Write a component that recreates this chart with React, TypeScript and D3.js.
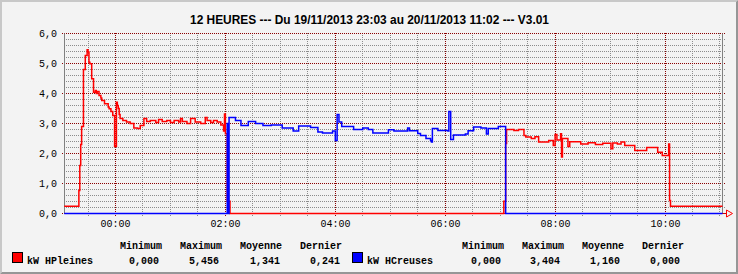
import React from 'react';
import * as d3 from 'd3';

const TITLE = '12 HEURES --- Du 19/11/2013 23:03 au 20/11/2013 11:02 --- V3.01';
const START = new Date(2013, 10, 19, 23, 4, 18);
const END = new Date(2013, 10, 20, 11, 2, 47);
const Y_MAX = 6;

const STAT_HEADERS = ['Minimum', 'Maximum', 'Moyenne', 'Dernier'];
const SERIES_NAMES = ['kW HPleines', 'kW HCreuses'];
const SERIES_COLORS = ['#ff0000', '#0000ff'];
const HP_STATS = ['0,000', '5,456', '1,341', '0,241'];
const HC_STATS = ['0,000', '3,404', '1,160', '0,000'];

const hpleines: [string, number][] = [
  ['23:04', 0.24], ['23:20', 0.77], ['23:21', 1.6], ['23:22', 2.3], ['23:23', 2.9],
  ['23:25', 4.8], ['23:27', 5.27],
  ['23:29', 5.456], ['23:30', 5.38], ['23:31', 5.04], ['23:32', 4.99], ['23:34', 4.49],
  ['23:36', 4.04], ['23:38', 4.1], ['23:39', 4.0], ['23:40', 4.07], ['23:42', 3.93],
  ['23:44', 3.85], ['23:45', 3.77], ['23:48', 3.66], ['23:52', 3.55], ['23:53', 3.49],
  ['23:55', 3.4], ['23:57', 3.27], ['23:59', 2.23], ['00:01', 3.71], ['00:02', 3.6],
  ['00:03', 3.5], ['00:04', 3.3], ['00:05', 3.17], ['00:08', 3.1], ['00:12', 3.05],
  ['00:16', 3.0], ['00:20', 2.85], ['00:24', 2.83], ['00:27', 2.93], ['00:31', 3.17],
  ['00:34', 3.07], ['00:38', 3.1], ['00:44', 3.03], ['00:47', 3.13], ['00:51', 3.07],
  ['00:56', 3.1], ['01:00', 3.03], ['01:04', 3.1], ['01:09', 3.05], ['01:11', 3.17],
  ['01:13', 3.07], ['01:18', 3.0], ['01:22', 3.17], ['01:27', 3.05], ['01:33', 3.0],
  ['01:38', 3.2], ['01:40', 3.1], ['01:44', 3.03], ['01:47', 3.1], ['01:51', 3.05],
  ['01:55', 2.95], ['01:58', 2.75], ['01:59', 3.32], ['02:00', 2.66], ['02:02', 0.41],
  ['02:05', 0], ['07:04', 0.41], ['07:06', 2.33], ['07:07', 2.8], ['07:15', 2.77],
  ['07:20', 2.8], ['07:26', 2.6], ['07:28', 2.55], ['07:34', 2.5], ['07:38', 2.56],
  ['07:42', 2.38], ['07:53', 2.43], ['07:58', 2.27], ['08:00', 2.63], ['08:02', 2.45],
  ['08:06', 2.66], ['08:07', 1.88], ['08:08', 2.5], ['08:14', 2.23], ['08:16', 2.39],
  ['08:28', 2.32], ['08:36', 2.36], ['08:44', 2.3], ['08:52', 2.34], ['09:01', 2.16],
  ['09:03', 2.35], ['09:08', 2.32], ['09:12', 2.38], ['09:16', 2.27], ['09:27', 2.1],
  ['09:40', 2.2], ['09:52', 2.04], ['09:57', 1.93], ['10:04', 2.32], ['10:05', 0.43],
  ['10:06', 0.241],
];

const hcreuses: [string, number][] = [
  ['23:04', 0], ['02:02', 3.0], ['02:03', 0], ['02:04', 3.2], ['02:11', 3.1],
  ['02:17', 2.93], ['02:25', 3.07], ['02:33', 3.0], ['02:41', 2.93], ['02:50', 2.95],
  ['03:02', 2.85], ['03:14', 2.75], ['03:20', 2.92], ['03:33', 2.87], ['03:41', 2.72],
  ['03:46', 2.68], ['03:57', 2.75], ['04:00', 2.43], ['04:02', 3.3], ['04:04', 3.05],
  ['04:07', 2.9], ['04:20', 2.8], ['04:30', 2.85], ['04:36', 2.8], ['04:41', 2.68],
  ['04:58', 2.79], ['05:04', 2.75], ['05:19', 2.85], ['05:21', 2.76], ['05:30', 2.67],
  ['05:33', 2.6], ['05:39', 2.5], ['05:44', 2.43], ['05:45', 2.38], ['05:46', 2.83],
  ['05:52', 2.77], ['06:03', 2.75], ['06:04', 3.404], ['06:06', 2.47], ['06:09', 2.62],
  ['06:22', 2.65], ['06:25', 2.76], ['06:31', 2.88], ['06:39', 2.85], ['06:45', 2.65],
  ['06:47', 2.83], ['06:58', 2.9], ['07:06', 0],
];

function parseT(s: string): Date {
  const [h, m] = s.split(':').map(Number);
  return h >= 12 ? new Date(2013, 10, 19, h, m) : new Date(2013, 10, 20, h, m);
}

const W = 738;
const H = 274;
const MONO = '"Liberation Mono", "Courier New", monospace';

export default function App() {
  const x = d3.scaleTime().domain([START, END]).range([64.5, 722.5]);
  const y = d3.scaleLinear().domain([0, Y_MAX]).range([213.5, 33.5]);
  const px = (d: Date) => Math.floor(x(d)) + 0.5;

  const minorY = d3.range(0, Y_MAX + 0.001, 0.2).map((v) => +v.toFixed(1)).filter((v) => Math.abs(v - Math.round(v)) > 0.01);
  const majorY = d3.range(0, Y_MAX + 1, 1);
  const minorX = d3.timeMinute.every(30)!.range(START, END).filter((d) => !(d.getMinutes() === 0 && d.getHours() % 2 === 0));
  const majorX = d3.timeHour.every(2)!.range(START, END);
  const fmtY = (v: number) => d3.format('.1f')(v).replace('.', ',');
  const fmtX = d3.timeFormat('%H:%M');

  const line = d3
    .line<[Date, number]>()
    .x((d) => x(d[0]))
    .y((d) => y(d[1]))
    .curve(d3.curveStepAfter);

  const toPts = (arr: [string, number][]): [Date, number][] => {
    const p = arr.map(([t, v]) => [parseT(t), v] as [Date, number]);
    p.push([END, arr[arr.length - 1][1]]);
    return p;
  };

  const x0 = x.range()[0];
  const x1 = x.range()[1];
  const yb = y(0);
  const yTop = Math.floor(y(Y_MAX));
  const xL = Math.floor(x0);

  const statX = [120, 180, 240, 300];
  const statX2 = [462, 522, 582, 642];
  const valX = [129, 189, 250, 310];
  const valX2 = [471, 530, 590, 650];

  return (
    <svg width={W} height={H} style={{ position: 'absolute', left: 0, top: 0 }} xmlns="http://www.w3.org/2000/svg">
      <rect x={0} y={0} width={W} height={H} fill="#f3f3f3" />
      <polygon points={`0,0 ${W},0 ${W - 2},2 2,2 2,${H - 2} 0,${H}`} fill="#c8c8c8" />
      <polygon points={`${W},0 ${W},${H} 0,${H} 2,${H - 2} ${W - 2},${H - 2} ${W - 2},2`} fill="#969696" />

      <text x={369.5} y={24} textAnchor="middle" fontFamily='"Liberation Sans", Arial, sans-serif' fontWeight="bold" fontSize={12} textLength={359} lengthAdjust="spacingAndGlyphs" fill="#000">
        {TITLE}
      </text>

      {minorY.map((v) => (
        <line key={'my' + v} x1={xL} x2={Math.ceil(x1) + 2} y1={y(v)} y2={y(v)} stroke="#8c8c8c" strokeWidth={1} strokeDasharray="1,1" />
      ))}
      {minorX.map((d) => (
        <line key={'mx' + d.getTime()} x1={px(d)} x2={px(d)} y1={yTop} y2={yb + 2.5} stroke="#8c8c8c" strokeWidth={1} strokeDasharray="1,1" />
      ))}
      {majorY.map((v) => (
        <line key={'My' + v} x1={xL - 2} x2={Math.ceil(x1) + 2} y1={y(v)} y2={y(v)} stroke="#8b0000" strokeWidth={1} strokeDasharray="1,1" />
      ))}
      {majorX.map((d) => (
        <line key={'Mx' + d.getTime()} x1={px(d)} x2={px(d)} y1={yTop} y2={yb + 3.5} stroke="#8b0000" strokeWidth={1} strokeDasharray="1,1" />
      ))}

      <line x1={x0} x2={x0} y1={y(Y_MAX)} y2={yb} stroke="#808080" strokeWidth={1} />
      <line x1={x1} x2={x1} y1={y(Y_MAX)} y2={yb} stroke="#808080" strokeWidth={1} />
      <line x1={x0} x2={x1 + 4} y1={yb} y2={yb} stroke="#cc0000" strokeWidth={1} />
      <polygon points={`${x1 + 4},${yb - 3.5} ${x1 + 4},${yb + 3.5} ${x1 + 10},${yb}`} fill="none" stroke="#ff0000" strokeWidth={1} />

      <path d={line(toPts(hpleines)) || ''} fill="none" stroke={SERIES_COLORS[0]} strokeWidth={1.5} />
      <path d={line(toPts(hcreuses)) || ''} fill="none" stroke={SERIES_COLORS[1]} strokeWidth={1.5} />

      {majorY.map((v) => (
        <text key={'yl' + v} x={57} y={y(v) + 3.5} textAnchor="end" fontFamily={MONO} fontSize={10} fill="#000">
          {fmtY(v)}
        </text>
      ))}
      {majorX.map((d) => (
        <text key={'xl' + d.getTime()} x={px(d)} y={227} textAnchor="middle" fontFamily={MONO} fontSize={10} fill="#000">
          {fmtX(d)}
        </text>
      ))}

      {STAT_HEADERS.map((h, i) => (
        <g key={'h' + i}>
          <text x={statX[i]} y={249} fontFamily={MONO} fontSize={10} fontWeight="bold" fill="#000">{h}</text>
          <text x={statX2[i]} y={249} fontFamily={MONO} fontSize={10} fontWeight="bold" fill="#000">{h}</text>
        </g>
      ))}
      <rect x={12.5} y={252.5} width={10} height={10} fill={SERIES_COLORS[0]} stroke="#000" />
      <text x={27} y={263.5} fontFamily={MONO} fontSize={10} fontWeight="bold" fill="#000">{SERIES_NAMES[0]}</text>
      {HP_STATS.map((s, i) => (
        <text key={'hp' + i} x={valX[i]} y={263.5} fontFamily={MONO} fontSize={10} fontWeight="bold" fill="#000">{s}</text>
      ))}
      <rect x={352.5} y={252.5} width={10} height={10} fill={SERIES_COLORS[1]} stroke="#000" />
      <text x={367} y={263.5} fontFamily={MONO} fontSize={10} fontWeight="bold" fill="#000">{SERIES_NAMES[1]}</text>
      {HC_STATS.map((s, i) => (
        <text key={'hc' + i} x={valX2[i]} y={263.5} fontFamily={MONO} fontSize={10} fontWeight="bold" fill="#000">{s}</text>
      ))}
    </svg>
  );
}
